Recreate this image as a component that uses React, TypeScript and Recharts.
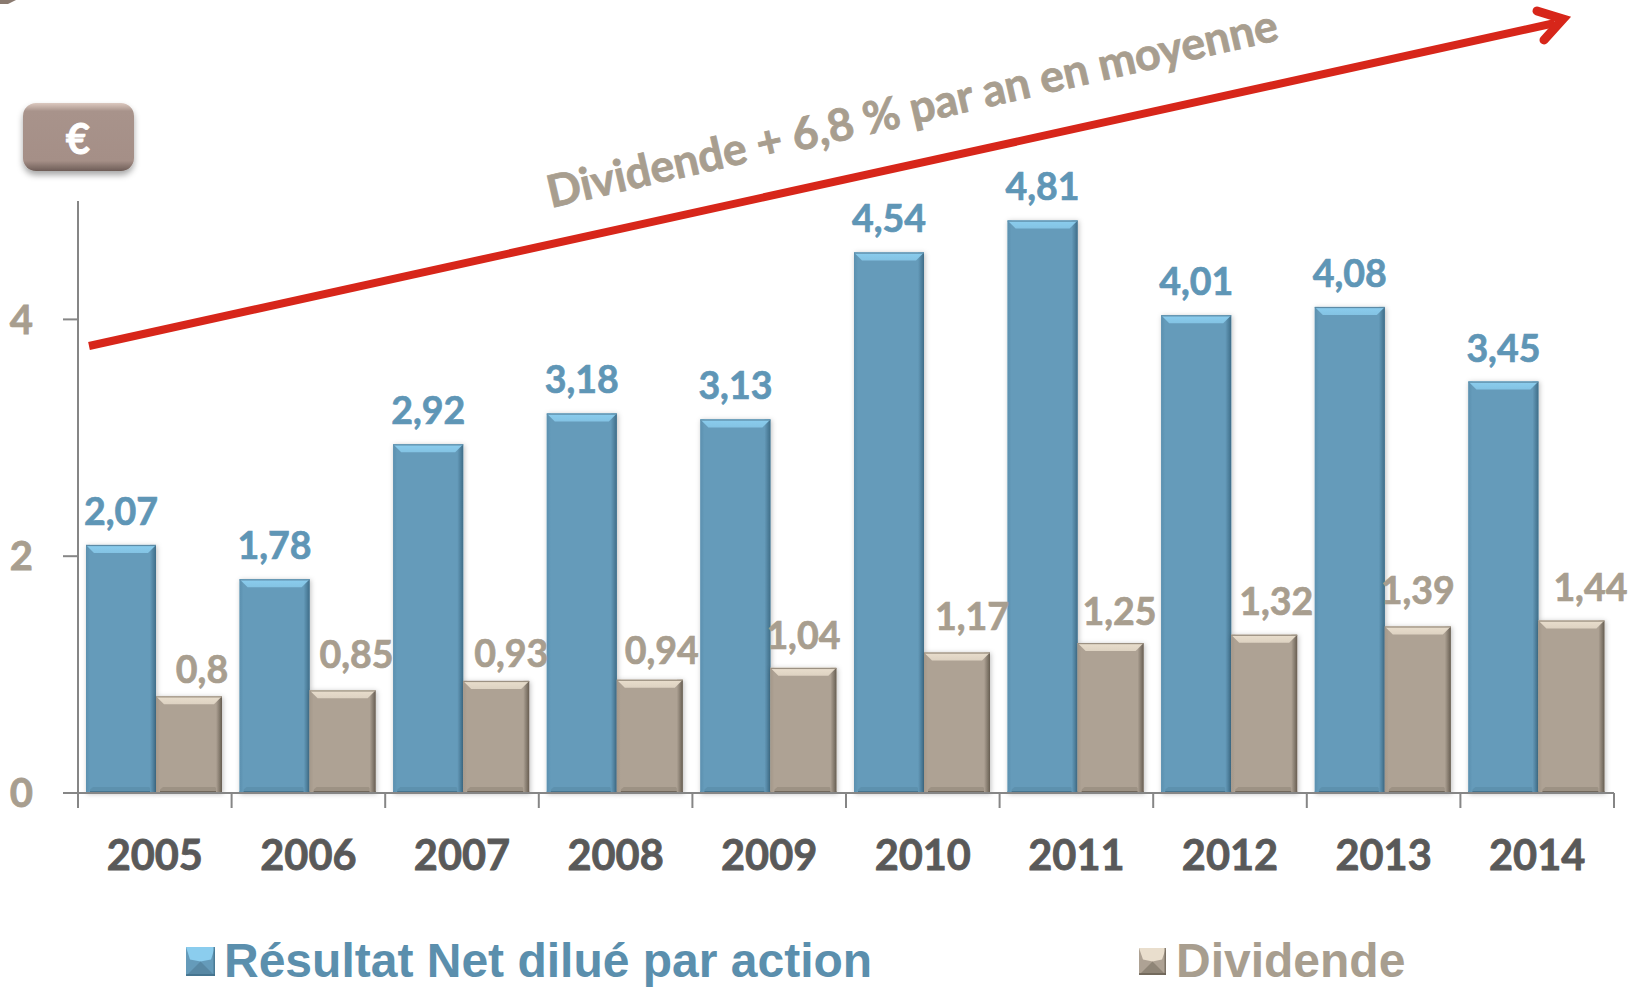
import { Bar, BarChart, Legend, LabelList, XAxis, YAxis } from 'recharts';

const YEARS = ['2005', '2006', '2007', '2008', '2009', '2010', '2011', '2012', '2013', '2014'];
const RESULTAT = [2.07, 1.78, 2.92, 3.18, 3.13, 4.54, 4.81, 4.01, 4.08, 3.45];
const DIVIDENDE = [0.8, 0.85, 0.93, 0.94, 1.04, 1.17, 1.25, 1.32, 1.39, 1.44];
// the dividend labels were moved by hand in the original, they don't sit centred
const DIV_LABEL_NUDGE = [13, 14, 15, 12, 0, 15, 9, 12, 0, 19];
const DIV_LABEL_LIFT = [15, 24, 16, 18, 21, 24, 20, 22, 24, 22];

const data = YEARS.map((year, i) => ({ year, resultat: RESULTAT[i], dividende: DIVIDENDE[i] }));

const BLUE = '#5f96b6';
const TAN = '#a89e8f';
const AXIS = '#868686';
const FONT = 'Lato, Carlito, sans-serif';
const BAND = 153.6;

const fr = (v: number) => String(v).replace('.', ',');

const BLUE_BEVEL = { id: 'b', face: '#659bba', top: '#8bcdee', edge: '#5d8ba6', left: '#5b90af', right: '#3f6d88', bottom: '#5888a4' };
const TAN_BEVEL = { id: 't', face: '#aea294', top: '#e9decd', edge: '#9c9182', left: '#a4988a', right: '#675e52', bottom: '#8f8577' };

function bevelBar(x: number, y: number, w: number, h: number, c: typeof BLUE_BEVEL) {
  const t = Math.min(8, h / 2);
  const r = x + w;
  const f = y + h;
  return (
    <g filter="url(#barShadow)">
      <rect x={x} y={y} width={w} height={h} fill={c.face} />
      <polygon points={`${x},${f} ${x + 7},${f - 6} ${r - 7},${f - 6} ${r},${f}`} fill={c.bottom} opacity={0.55} />
      <rect x={x} y={f - 2} width={w} height={2} fill={c.right} opacity={0.8} />
      <rect x={x} y={y} width={4} height={h} fill={`url(#${c.id}Left)`} />
      <rect x={r - 6} y={y} width={6} height={h} fill={`url(#${c.id}Right)`} />
      <polygon points={`${x},${y} ${r},${y} ${r - 8},${y + t} ${x + 8},${y + t}`} fill={`url(#${c.id}Top)`} />
      <rect x={x} y={y} width={w} height={1.2} fill={c.edge} />
    </g>
  );
}

function bevelDefs(c: typeof BLUE_BEVEL) {
  return (
    <>
      <linearGradient id={`${c.id}Left`} x1="0" y1="0" x2="1" y2="0">
        <stop offset="0" stopColor={c.left} />
        <stop offset="1" stopColor={c.face} />
      </linearGradient>
      <linearGradient id={`${c.id}Right`} x1="0" y1="0" x2="1" y2="0">
        <stop offset="0" stopColor={c.face} />
        <stop offset="1" stopColor={c.right} />
      </linearGradient>
      <linearGradient id={`${c.id}Top`} x1="0" y1="0" x2="0" y2="1">
        <stop offset="0" stopColor={c.top} />
        <stop offset="1" stopColor={c.top} stopOpacity={0.8} />
      </linearGradient>
    </>
  );
}

// blue bars are a little wider than the tan ones in the source
const BlueBar = (p: any) => bevelBar(p.x - 1, p.y - 3, p.width + 2, p.height + 3, BLUE_BEVEL);
const TanBar = (p: any) => bevelBar(p.x + 1, p.y - 2, p.width - 2, p.height + 2, TAN_BEVEL);

const BlueLabel = (p: any) => (
  <text x={p.x + p.width / 2} y={p.y - 23} textAnchor="middle" fill={BLUE} stroke={BLUE} strokeWidth={0.7} fontFamily={FONT} fontWeight={700} fontSize={37.5}>
    {fr(p.value)}
  </text>
);

const TanLabel = (p: any) => (
  <text x={p.x + p.width / 2 + DIV_LABEL_NUDGE[p.index]} y={p.y - DIV_LABEL_LIFT[p.index]} textAnchor="middle" fill={TAN} stroke={TAN} strokeWidth={0.7} fontFamily={FONT} fontWeight={700} fontSize={37.5}>
    {fr(p.value)}
  </text>
);

// ticks fall between the categories, so the tick marks are drawn here with the year label
const YearTick = (p: any) => {
  const baseY = 793;
  const mark = (x: number) => <line x1={x} x2={x} y1={baseY} y2={baseY + 15} stroke={AXIS} strokeWidth={2} />;
  return (
    <g>
      {mark(p.x - BAND / 2)}
      {p.index === YEARS.length - 1 && mark(p.x + BAND / 2)}
      <text x={p.x} y={baseY + 77} textAnchor="middle" fill="#595959" stroke="#595959" strokeWidth={0.8} fontFamily={FONT} fontWeight={700} fontSize={41.5}>
        {p.payload.value}
      </text>
    </g>
  );
};

function LegendSwatch({ c, size }: { c: typeof BLUE_BEVEL; size: number }) {
  const s = size;
  const m = s / 2;
  return (
    <svg width={s} height={s} style={{ display: 'block' }}>
      <rect width={s} height={s} fill={c.face} />
      <polygon points={`0,0 ${s},0 ${s - 4},${m - 2} ${m},${m} 4,${m - 2}`} fill={c.top} />
      <polygon points={`0,${s} ${m},${m} ${s},${s}`} fill={c.bottom} />
      <rect y={s - 2} width={s} height={2} fill={c.right} opacity={0.7} />
      <rect x={s - 1.5} width={1.5} height={s} fill={c.right} opacity={0.7} />
    </svg>
  );
}

function ChartLegend() {
  const item = (label: string, color: string, c: typeof BLUE_BEVEL, left: number, size: number, gap: number) => (
    <div style={{ position: 'absolute', left, top: 0, height: 54, display: 'flex', alignItems: 'center', gap, whiteSpace: 'nowrap' }}>
      <LegendSwatch c={c} size={size} />
      <span style={{ color, font: '700 48px "Liberation Sans", Arial, sans-serif', lineHeight: '54px' }}>{label}</span>
    </div>
  );
  return (
    <div style={{ position: 'relative', width: 1639, height: 54 }}>
      {item('Résultat Net dilué par action', '#5b8fad', BLUE_BEVEL, 186, 29, 9)}
      {item('Dividende', TAN, TAN_BEVEL, 1139, 27, 10)}
    </div>
  );
}

export default function App() {
  return (
    <div style={{ position: 'absolute', left: 0, top: 0, width: 1639, height: 987, overflow: 'hidden', background: '#fff' }}>
      <BarChart
        width={1639}
        height={987}
        data={data}
        margin={{ top: 201, right: 25, bottom: 110, left: 0 }}
        barCategoryGap={7.8}
        barGap={0}
        barSize={68}
      >
        <defs>
          {bevelDefs(BLUE_BEVEL)}
          {bevelDefs(TAN_BEVEL)}
          <filter id="barShadow" x="-10%" y="-5%" width="125%" height="110%">
            <feDropShadow dx="1" dy="1" stdDeviation="2.5" floodColor="#000" floodOpacity="0.25" />
          </filter>
          <linearGradient id="badge" x1="0" y1="0" x2="0" y2="1">
            <stop offset="0" stopColor="#dcc9c0" />
            <stop offset="0.12" stopColor="#a8938b" />
            <stop offset="0.85" stopColor="#a58f87" />
            <stop offset="1" stopColor="#6e5d57" />
          </linearGradient>
          <filter id="badgeShadow" x="-15%" y="-15%" width="130%" height="140%">
            <feDropShadow dx="0" dy="4" stdDeviation="3" floodColor="#000" floodOpacity="0.35" />
          </filter>
        </defs>
        <XAxis
          dataKey="year"
          interval={0}
          tickLine={false}
          axisLine={{ stroke: AXIS, strokeWidth: 2 }}
          tick={YearTick}
        />
        <YAxis
          domain={[0, 5]}
          ticks={[0, 2, 4]}
          width={78}
          tickLine={{ stroke: AXIS, strokeWidth: 2 }}
          axisLine={{ stroke: AXIS, strokeWidth: 2 }}
          tickSize={15}
          tickMargin={30}
          tick={{ fill: TAN, stroke: TAN, strokeWidth: 0.8, fontSize: 40, fontWeight: 700, fontFamily: FONT }}
        />
        <Legend content={<ChartLegend />} layout="horizontal" verticalAlign="bottom" wrapperStyle={{ left: 0, top: 934, width: 1639 }} />
        <Bar dataKey="resultat" name="Résultat Net dilué par action" fill={BLUE} shape={BlueBar} isAnimationActive={false}>
          <LabelList dataKey="resultat" content={BlueLabel} />
        </Bar>
        <Bar dataKey="dividende" name="Dividende" fill={TAN} shape={TanBar} isAnimationActive={false}>
          <LabelList dataKey="dividende" content={TanLabel} />
        </Bar>

        <g>
          <polygon points="0,0 16,0 8,4 0,4" fill="#8a7a70" />
          <rect x={23} y={103} width={111} height={68} rx={13} fill="url(#badge)" filter="url(#badgeShadow)" />
          <text x={78} y={154} textAnchor="middle" fill="#fff" stroke="#fff" strokeWidth={0.8} fontFamily={FONT} fontWeight={700} fontSize={42}>€</text>
          <line x1={89} y1={346} x2={1555} y2={23} stroke="#d7261a" strokeWidth={8} />
          <polyline points="1537,11 1563,19 1544,40" fill="none" stroke="#d7261a" strokeWidth={9} strokeLinecap="round" />
          <text x={551} y={208} transform="rotate(-13 551 208)" fill={TAN} stroke={TAN} strokeWidth={0.8} fontFamily={FONT} fontWeight={700} fontSize={44.7}>
            Dividende + 6,8 % par an en moyenne
          </text>
        </g>
      </BarChart>
    </div>
  );
}
